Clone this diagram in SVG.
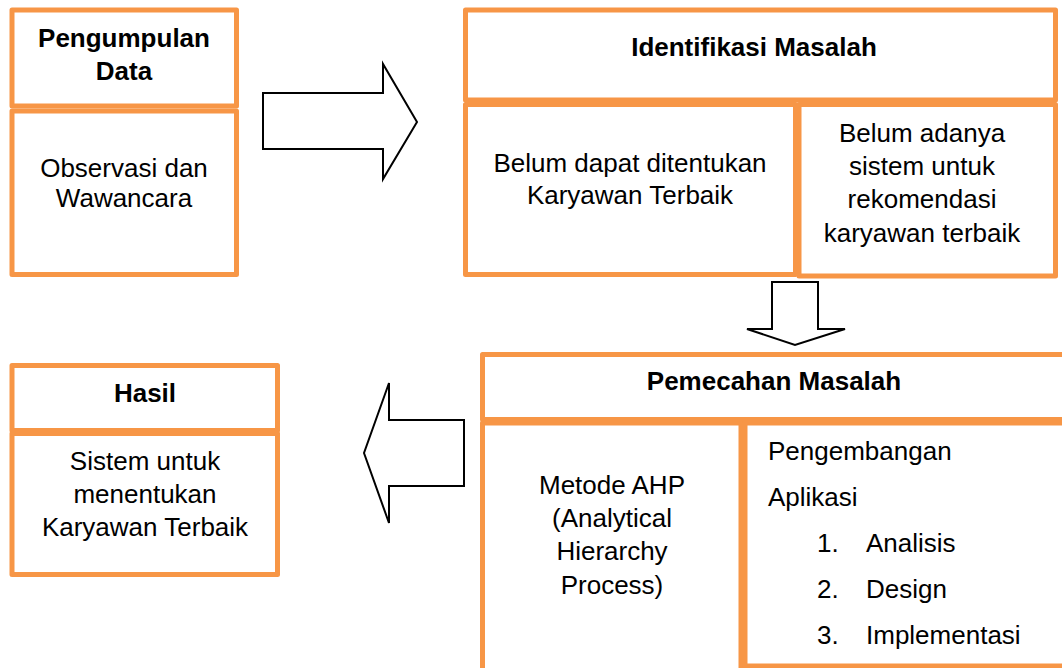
<svg xmlns="http://www.w3.org/2000/svg" width="1062" height="668" viewBox="0 0 1062 668">
<style>
.box{fill:#fff;stroke:#F79646;stroke-width:5;stroke-linejoin:round}
.arrow{fill:#fff;stroke:#000;stroke-width:2;stroke-linejoin:miter}
.t{font-family:"Liberation Sans",Arial,sans-serif;font-size:26px;fill:#000}
.c{text-anchor:middle}
.b{font-weight:bold}
</style>
<rect width="1062" height="668" fill="#fff"/>
<g id="connectors">
<polygon class="arrow" points="263,93 383,93 383,64 417,122 383,179 383,149 263,149"/>
<polygon class="arrow" points="772,282 818,282 818,329 845,329 795,345 747,329 772,329"/>
<polygon class="arrow" points="464,420 389,420 389,383 364,453 389,523 389,486 464,486"/>
</g>
<g id="pengumpulan-data">
<rect class="box" x="12" y="10" width="224.5" height="96"/>
<rect class="box" x="12" y="111" width="224.5" height="163.5"/>
<text class="t c b" x="124" y="47">Pengumpulan</text>
<text class="t c b" x="124" y="80">Data</text>
<text class="t c" x="124" y="177">Observasi dan</text>
<text class="t c" x="124" y="207">Wawancara</text>
</g>
<g id="identifikasi-masalah">
<rect class="box" x="465.5" y="10" width="590" height="90"/>
<rect class="box" x="465.5" y="104.5" width="330" height="170"/>
<rect class="box" x="799" y="104.5" width="256.5" height="171.5"/>
<text class="t c b" x="754" y="56">Identifikasi Masalah</text>
<text class="t c" x="630" y="172">Belum dapat ditentukan</text>
<text class="t c" x="630" y="204">Karyawan Terbaik</text>
<text class="t c" x="922" y="142">Belum adanya</text>
<text class="t c" x="922" y="175">sistem untuk</text>
<text class="t c" x="922" y="208">rekomendasi</text>
<text class="t c" x="922" y="242">karyawan terbaik</text>
</g>
<g id="pemecahan-masalah">
<rect class="box" x="482.5" y="354.5" width="590" height="65"/>
<rect class="box" x="482.5" y="423" width="258.5" height="260"/>
<rect class="box" x="745" y="423" width="330" height="243"/>
<text class="t c b" x="774" y="390">Pemecahan Masalah</text>
<text class="t c" x="612" y="494">Metode AHP</text>
<text class="t c" x="612" y="527">(Analytical</text>
<text class="t c" x="612" y="560">Hierarchy</text>
<text class="t c" x="612" y="594">Process)</text>
<text class="t" x="768" y="460">Pengembangan</text>
<text class="t" x="768" y="506">Aplikasi</text>
<text class="t" x="817" y="552">1.</text>
<text class="t" x="866" y="552">Analisis</text>
<text class="t" x="817" y="598">2.</text>
<text class="t" x="866" y="598">Design</text>
<text class="t" x="817" y="644">3.</text>
<text class="t" x="866" y="644">Implementasi</text>
</g>
<g id="hasil">
<rect class="box" x="12" y="365.5" width="265.5" height="65"/>
<rect class="box" x="12" y="433.5" width="265.5" height="141"/>
<text class="t c b" x="145" y="402">Hasil</text>
<text class="t c" x="145" y="470">Sistem untuk</text>
<text class="t c" x="145" y="503">menentukan</text>
<text class="t c" x="145" y="536">Karyawan Terbaik</text>
</g>
</svg>
